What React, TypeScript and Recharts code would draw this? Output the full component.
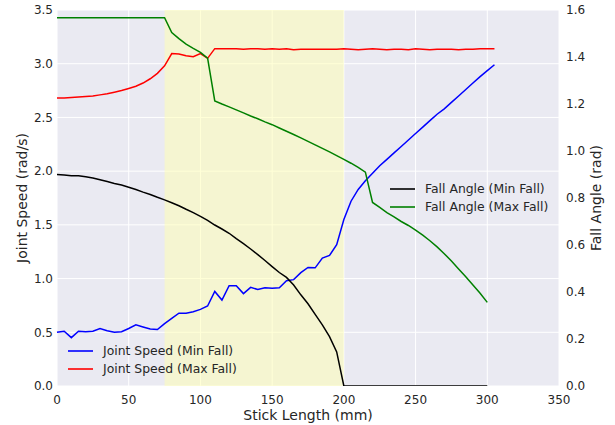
import React from "react";
import {
  ComposedChart,
  Line,
  XAxis,
  YAxis,
  CartesianGrid,
  ReferenceArea,
  Legend,
  Label,
} from "recharts";

const stickLength = [
  0, 5, 10, 15, 20, 25, 30, 35, 40, 45, 50, 55, 60, 65, 70, 75, 80, 85, 90, 95,
  100, 105, 110, 115, 120, 125, 130, 135, 140, 145, 150, 155, 160, 165, 170,
  175, 180, 185, 190, 195, 200, 205, 210, 215, 220, 225, 230, 235, 240, 245,
  250, 255, 260, 265, 270, 275, 280, 285, 290, 295, 300, 305,
];

const jointSpeedMin = [
  0.5, 0.51, 0.45, 0.51, 0.505, 0.51, 0.535, 0.515, 0.5, 0.505, 0.535, 0.57,
  0.55, 0.53, 0.525, 0.58, 0.63, 0.678, 0.678, 0.692, 0.713, 0.745, 0.88, 0.8,
  0.934, 0.934, 0.86, 0.918, 0.898, 0.915, 0.909, 0.915, 0.98, 0.99, 1.055,
  1.103, 1.1, 1.19, 1.215, 1.315, 1.55, 1.72, 1.83, 1.91, 1.98, 2.05, 2.11,
  2.17, 2.23, 2.29, 2.35, 2.41, 2.47, 2.53, 2.58, 2.64, 2.7, 2.76, 2.82, 2.88,
  2.935, 2.99,
];

const jointSpeedMax = [
  2.68, 2.68, 2.685, 2.69, 2.695, 2.7, 2.71, 2.72, 2.735, 2.75, 2.77, 2.79,
  2.82, 2.86, 2.91, 2.98, 3.095, 3.09, 3.075, 3.065, 3.095, 3.05, 3.14, 3.14,
  3.14, 3.14, 3.135, 3.14, 3.14, 3.135, 3.14, 3.135, 3.14, 3.13, 3.135, 3.135,
  3.135, 3.135, 3.135, 3.135, 3.14, 3.135, 3.13, 3.135, 3.14, 3.135, 3.13,
  3.135, 3.135, 3.13, 3.14, 3.135, 3.13, 3.135, 3.135, 3.135, 3.13, 3.135,
  3.135, 3.14, 3.14, 3.14,
];

const fallAngleMin = [
  0.9, 0.898, 0.895, 0.895, 0.89, 0.885, 0.878, 0.87, 0.862, 0.855, 0.846,
  0.836, 0.825, 0.815, 0.803, 0.792, 0.78, 0.767, 0.752, 0.738, 0.722, 0.705,
  0.685, 0.668, 0.65, 0.627, 0.606, 0.583, 0.559, 0.534, 0.508, 0.483, 0.462,
  0.43, 0.388, 0.35, 0.305, 0.26, 0.21, 0.145, 0, 0, 0, 0, 0, 0, 0, 0, 0, 0,
  0, 0, 0, 0, 0, 0, 0, 0, 0, 0, 0,
];

const fallAngleMax = [
  1.567, 1.567, 1.567, 1.567, 1.567, 1.567, 1.567, 1.567, 1.567, 1.567, 1.567,
  1.567, 1.567, 1.567, 1.567, 1.567, 1.504, 1.478, 1.455, 1.437, 1.42, 1.395,
  1.213, 1.2, 1.188, 1.175, 1.162, 1.149, 1.137, 1.124, 1.112, 1.098, 1.084,
  1.07, 1.056, 1.041, 1.026, 1.011, 0.996, 0.98, 0.964, 0.948, 0.93, 0.91,
  0.781, 0.76, 0.738, 0.72, 0.7, 0.683, 0.663, 0.642, 0.618, 0.592, 0.563,
  0.532, 0.498, 0.465, 0.43, 0.395, 0.356,
];

const xTicks = [0, 50, 100, 150, 200, 250, 300, 350];
const leftTicks = [0, 0.5, 1, 1.5, 2, 2.5, 3, 3.5];
const rightTicks = [0, 0.2, 0.4, 0.6, 0.8, 1.0, 1.2, 1.4, 1.6];
const shadedRange = [75, 200];

const data = stickLength.map((x, i) => ({
  x,
  jsMin: jointSpeedMin[i],
  jsMax: jointSpeedMax[i],
  faMin: fallAngleMin[i],
  faMax: fallAngleMax[i],
}));

const FONT = "DejaVu Sans";
const TXT = "#262626";

const leftLegend = [
  { name: "Joint Speed (Min Fall)", color: "#0000ff" },
  { name: "Joint Speed (Max Fall)", color: "#ff0000" },
];
const rightLegend = [
  { name: "Fall Angle (Min Fall)", color: "#000000" },
  { name: "Fall Angle (Max Fall)", color: "#008000" },
];

const LegendGroup = ({ items, left, top }) => (
  <div style={{ position: "absolute", left, top }}>
    {items.map((it) => (
      <div
        key={it.name}
        style={{ display: "flex", alignItems: "center", height: 18 }}
      >
        <svg width={25} height={4} style={{ display: "block" }}>
          <line x1={0} y1={2} x2={25} y2={2} stroke={it.color} strokeWidth={1.6} />
        </svg>
        <span
          style={{
            marginLeft: 10,
            fontFamily: FONT,
            fontSize: 12.4,
            color: TXT,
            whiteSpace: "nowrap",
            lineHeight: "18px",
          }}
        >
          {it.name}
        </span>
      </div>
    ))}
  </div>
);

const renderLegend = () => (
  <div style={{ position: "relative", width: 615, height: 425 }}>
    <LegendGroup items={leftLegend} left={68} top={342} />
    <LegendGroup items={rightLegend} left={390} top={180} />
  </div>
);

export default function App() {
  return (
    <div style={{ position: "absolute", left: 0, top: 0 }}>
      <ComposedChart
        width={615}
        height={425}
        data={data}
        margin={{ top: 10, right: 0, left: 0, bottom: 0 }}
      >
        <CartesianGrid
          yAxisId="left"
          fill="#EAEAF2"
          stroke="#ffffff"
          strokeWidth={1}
          horizontalValues={leftTicks}
          verticalValues={xTicks}
        />
        <XAxis
          dataKey="x"
          type="number"
          domain={[0, 350]}
          ticks={xTicks}
          axisLine={false}
          tickLine={false}
          tickSize={0}
          tickMargin={9}
          height={39}
          tick={{ fontFamily: FONT, fontSize: 12, fill: TXT }}
        >
          <Label
            content={({ viewBox }) => (
              <text
                x={viewBox.x + viewBox.width / 2}
                y={viewBox.y + 29}
                textAnchor="middle"
                dominantBaseline="central"
                fontFamily={FONT}
                fontSize={14}
                fill={TXT}
              >
                Stick Length (mm)
              </text>
            )}
          />
        </XAxis>
        <YAxis
          yAxisId="left"
          domain={[0, 3.5]}
          ticks={leftTicks}
          axisLine={false}
          tickLine={false}
          tickSize={0}
          tickMargin={4}
          width={57}
          tickFormatter={(v) => v.toFixed(1)}
          tick={{ fontFamily: FONT, fontSize: 12, fill: TXT }}
        >
          <Label
            content={({ viewBox }) => {
              const cx = viewBox.x + 22;
              const cy = viewBox.y + viewBox.height / 2;
              return (
                <text
                  x={cx}
                  y={cy}
                  transform={`rotate(-90 ${cx} ${cy})`}
                  textAnchor="middle"
                  dominantBaseline="central"
                  fontFamily={FONT}
                  fontSize={14}
                  fill={TXT}
                >
                  Joint Speed (rad/s)
                </text>
              );
            }}
          />
        </YAxis>
        <YAxis
          yAxisId="right"
          orientation="right"
          domain={[0, 1.6]}
          allowDataOverflow
          ticks={rightTicks}
          axisLine={false}
          tickLine={false}
          tickSize={0}
          tickMargin={7}
          width={56}
          tickFormatter={(v) => v.toFixed(1)}
          tick={{ fontFamily: FONT, fontSize: 12, fill: TXT }}
        >
          <Label
            content={({ viewBox }) => {
              const cx = viewBox.x + 37;
              const cy = viewBox.y + viewBox.height / 2;
              return (
                <text
                  x={cx}
                  y={cy}
                  transform={`rotate(-90 ${cx} ${cy})`}
                  textAnchor="middle"
                  dominantBaseline="central"
                  fontFamily={FONT}
                  fontSize={14}
                  fill={TXT}
                >
                  Fall Angle (rad)
                </text>
              );
            }}
          />
        </YAxis>
        <ReferenceArea
          yAxisId="left"
          x1={shadedRange[0]}
          x2={shadedRange[1]}
          y1={0}
          y2={3.5}
          fill="#ffffb0"
          fillOpacity={0.5}
          stroke="none"
        />
        <Line
          yAxisId="left"
          dataKey="jsMin"
          name="Joint Speed (Min Fall)"
          stroke="#0000ff"
          strokeWidth={1.5}
          dot={false}
          isAnimationActive={false}
        />
        <Line
          yAxisId="left"
          dataKey="jsMax"
          name="Joint Speed (Max Fall)"
          stroke="#ff0000"
          strokeWidth={1.5}
          dot={false}
          isAnimationActive={false}
        />
        <Line
          yAxisId="right"
          dataKey="faMin"
          name="Fall Angle (Min Fall)"
          stroke="#000000"
          strokeWidth={1.5}
          dot={false}
          isAnimationActive={false}
        />
        <Line
          yAxisId="right"
          dataKey="faMax"
          name="Fall Angle (Max Fall)"
          stroke="#008000"
          strokeWidth={1.5}
          dot={false}
          isAnimationActive={false}
        />
        <Legend
          layout="vertical"
          align="center"
          verticalAlign="middle"
          content={renderLegend}
          wrapperStyle={{ left: 0, top: 0, width: 615, height: 425, pointerEvents: "none" }}
        />
      </ComposedChart>
    </div>
  );
}
